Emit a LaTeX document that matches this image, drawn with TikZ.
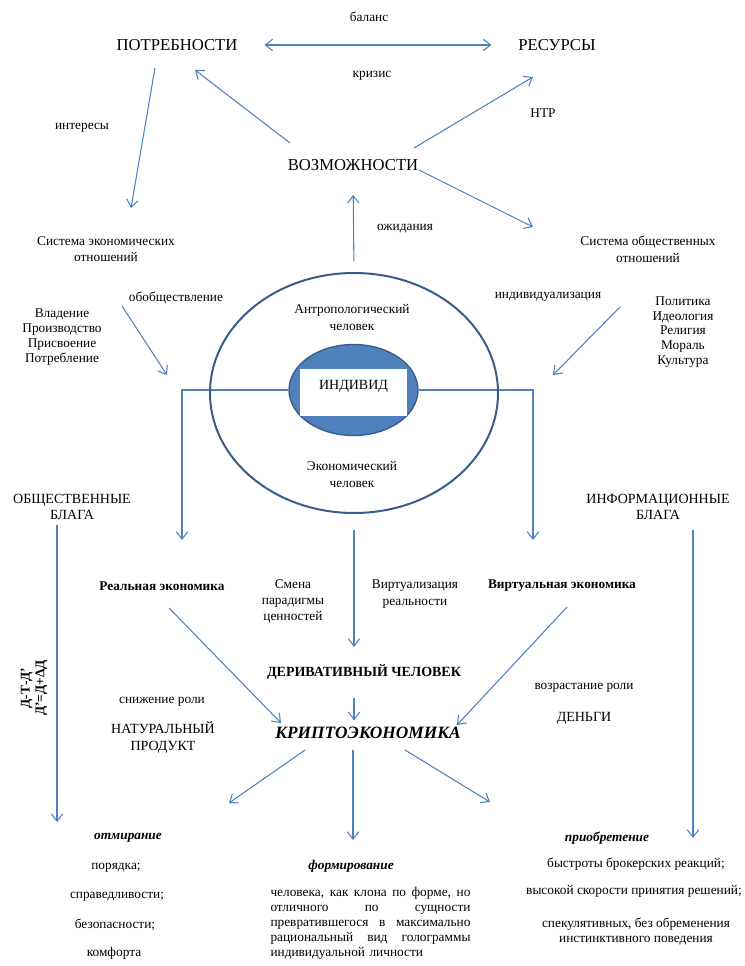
\documentclass[tikz,border=0pt]{standalone}
\usepackage{fontspec}
\setmainfont{Liberation Serif}
\usepackage{tikz}
\usetikzlibrary{shapes.geometric, arrows, positioning, backgrounds, arrows.meta, calc}
\definecolor{lineblue}{RGB}{79,129,189}
\definecolor{ringblue}{RGB}{56,93,138}
\tikzstyle{txt} = [font=\fontsize{10}{12.5}\selectfont, align=center, inner sep=2pt]
\tikzstyle{bigtxt} = [font=\fontsize{12.5}{15}\selectfont, inner sep=2pt]
\tikzstyle{captxt} = [font=\fontsize{10.5}{11.5}\selectfont, align=center, inner sep=2pt]
\tikzstyle{boldtxt} = [font=\bfseries\fontsize{10}{12}\selectfont, align=center, inner sep=2pt]
\tikzstyle{itbold} = [font=\bfseries\itshape\fontsize{10}{12}\selectfont, inner sep=2pt]
\tikzstyle{arrow} = [draw=lineblue, line width=0.8pt, -{Straight Barb[length=5.5pt, width=8.5pt]}]
\tikzstyle{twoway} = [draw=lineblue, line width=0.8pt, {Straight Barb[length=5.5pt, width=8.5pt]}-{Straight Barb[length=5.5pt, width=8.5pt]}]
\tikzstyle{wire} = [draw=lineblue, line width=0.8pt]
\newcommand{\fullline}[1]{\makebox[150pt][s]{\spaceskip=0.3333em plus 10em #1}}

\begin{document}
\begin{tikzpicture}[x=0.75pt, y=-0.75pt]
        \useasboundingbox (0,0) rectangle (744,966);

        % needs, resources, opportunities
        \node[bigtxt] (Needs) at (177,45) {ПОТРЕБНОСТИ};
        \node[bigtxt] (Resources) at (557,45) {РЕСУРСЫ};
        \node[bigtxt] (Opport) at (353,165) {ВОЗМОЖНОСТИ};
        \node[txt] (Balance) at (369,17) {баланс};
        \node[txt] (Crisis) at (372,76) {кризис};
        \node[txt] (STR) at (543,113) {НТР};
        \node[txt] (Interests) at (82,128) {интересы};
        \node[txt] (Expect) at (405,229) {ожидания};
        \draw [twoway, shorten <=18pt, shorten >=18pt] (Needs) -- (Resources);

        \coordinate (NeedsOut) at (155,68);
        \coordinate (EconIn) at (131,208);
        \coordinate (OppLeft) at (290,143);
        \coordinate (NeedsIn) at (195,70);
        \coordinate (OppRight) at (414,148);
        \coordinate (ResIn) at (533,77);
        \coordinate (OppDown) at (419,170);
        \coordinate (SocIn) at (533,227);
        \draw [arrow] (NeedsOut) -- (EconIn);
        \draw [arrow] (OppLeft) -- (NeedsIn);
        \draw [arrow] (OppRight) -- (ResIn);
        \draw [arrow] (OppDown) -- (SocIn);

        % systems of relations
        \node[txt] (EconSystem) at (106,249) {Система экономических\\отношений};
        \node[txt] (SocSystem) at (648,249) {Система общественных\\отношений};
        \node[txt] (Socializ) at (176,298) {обобществление};
        \node[txt] (Individ) at (548,297) {индивидуализация};
        \node[txt, font=\fontsize{10}{11.25}\selectfont] (Ownership) at (62,337) {Владение\\Производство\\Присвоение\\Потребление};
        \node[txt, font=\fontsize{10}{11.1}\selectfont] (Culture) at (683,332) {Политика\\Идеология\\Религия\\Мораль\\Культура};
        \coordinate (SocOut) at (122,306);
        \coordinate (SocEnd) at (167,375);
        \coordinate (IndOut) at (620,307);
        \coordinate (IndEnd) at (553,375);
        \draw [arrow] (SocOut) -- (SocEnd);
        \draw [arrow] (IndOut) -- (IndEnd);

        % man
        \node[ellipse, draw=ringblue, line width=1.5pt, minimum width=216pt, minimum height=180pt, inner sep=0pt] (Outer) at (354,393) {};
        \node[ellipse, draw=ringblue, line width=1pt, fill=lineblue, minimum width=96.75pt, minimum height=68.25pt, inner sep=0pt] (Inner) at (353.5,390) {};
        \node[rectangle, fill=white, minimum width=80.25pt, inner xsep=0pt, inner ysep=0pt, text height=15pt, text depth=20.25pt, font=\fontsize{10.5}{12}\selectfont] (Indiv) at (353.5,392.5) {ИНДИВИД};
        \node[txt, font=\fontsize{10}{12.75}\selectfont] (Anthrop) at (352,317) {Антропологический\\человек};
        \node[txt, font=\fontsize{10}{12.75}\selectfont] (EconMan) at (352,474) {Экономический\\человек};
        \draw [arrow, shorten <=8pt, shorten >=16pt] (Outer.north) -- (Opport.south);

        \coordinate (LeftDrop) at (182,540);
        \coordinate (RightDrop) at (533,540);
        \begin{pgfonlayer}{background}
            \draw [arrow] (Inner.west) -| (LeftDrop);
            \draw [arrow] (Inner.east) -| (RightDrop);
        \end{pgfonlayer}

        % goods
        \node[captxt] (PubGoods) at (72,507) {ОБЩЕСТВЕННЫЕ\\БЛАГА};
        \node[captxt] (InfoGoods) at (658,507) {ИНФОРМАЦИОННЫЕ\\БЛАГА};
        \node[boldtxt, rotate=90, font=\bfseries\fontsize{10}{11}\selectfont] (Formula) at (34,688) {Д-Т-Д’\\Д’=Д+ΔД};
        \coordinate (PubTop) at (57,525);
        \coordinate (PubEnd) at (57,822);
        \coordinate (InfoTop) at (693,530);
        \coordinate (InfoEnd) at (693,838);
        \draw [arrow] (PubTop) -- (PubEnd);
        \draw [arrow] (InfoTop) -- (InfoEnd);

        % economies
        \node[boldtxt] (RealEcon) at (162,586) {Реальная экономика};
        \node[boldtxt] (VirtEcon) at (562,586) {Виртуальная экономика};
        \node[txt, font=\fontsize{10}{12}\selectfont] (Paradigm) at (293,601) {Смена\\парадигмы\\ценностей};
        \node[txt, font=\fontsize{10}{12.75}\selectfont] (Virtualiz) at (415,594) {Виртуализация\\реальности};
        \node[boldtxt, font=\bfseries\fontsize{10.5}{12}\selectfont] (Deriv) at (364,672) {ДЕРИВАТИВНЫЙ ЧЕЛОВЕК};
        \node[bigtxt, font=\bfseries\itshape\fontsize{13}{15}\selectfont] (Krypto) at (368,733) {КРИПТОЭКОНОМИКА};
        \draw [arrow, shorten <=12pt, shorten >=11pt] (Outer.south) -- (Outer.south |- Deriv.north);
        \draw [arrow, shorten <=12pt, shorten >=3pt] (Outer.south |- Deriv.south) -- (Outer.south |- Krypto.north);
        \coordinate (RealOut) at (169,608);
        \coordinate (KryLeftIn) at (281,723);
        \coordinate (VirtOut) at (567,607);
        \coordinate (KryRightIn) at (457,725);
        \draw [arrow] (RealOut) -- (KryLeftIn);
        \draw [arrow] (VirtOut) -- (KryRightIn);

        \node[txt] (Decline) at (162,702) {снижение роли};
        \node[captxt, font=\fontsize{10.5}{12.75}\selectfont] (Natural) at (163,738) {НАТУРАЛЬНЫЙ\\ПРОДУКТ};
        \node[txt] (Growth) at (584,688) {возрастание роли};
        \node[captxt] (Money) at (584,718) {ДЕНЬГИ};

        % outcomes
        \coordinate (KryL) at (305,750);
        \coordinate (DieIn) at (229,803);
        \coordinate (KryM) at (353,750);
        \coordinate (FormIn) at (353,840);
        \coordinate (KryR) at (405,750);
        \coordinate (GainIn) at (490,802);
        \draw [arrow] (KryL) -- (DieIn);
        \draw [arrow] (KryM) -- (FormIn);
        \draw [arrow] (KryR) -- (GainIn);

        \node[itbold] (Dying) at (128,838) {отмирание};
        \node[txt] (Order) at (116,868) {порядка;};
        \node[txt] (Justice) at (117,897) {справедливости;};
        \node[txt] (Safety) at (115,925) {безопасности;};
        \node[txt] (Comfort) at (114,953) {комфорта};

        \node[itbold] (Forming) at (351,866) {формирование};
        \node[txt, align=left, text width=150pt, font=\fontsize{10}{11.25}\selectfont] (Clone) at (370.5,923) {\fullline{человека, как клона по форме, но}\\\fullline{отличного по сущности}\\\fullline{превратившегося в максимально}\\\fullline{рациональный вид голограммы}\\индивидуальной личности};

        \node[itbold] (Gaining) at (607,838) {приобретение};
        \node[txt] (Broker) at (636,864) {быстроты брокерских реакций;};
        \node[txt] (Speed) at (634,891) {высокой скорости принятия решений;};
        \node[txt, font=\fontsize{10}{11.25}\selectfont] (Specul) at (636,931.5) {спекулятивных, без обременения\\инстинктивного поведения};
\end{tikzpicture}
\end{document}
